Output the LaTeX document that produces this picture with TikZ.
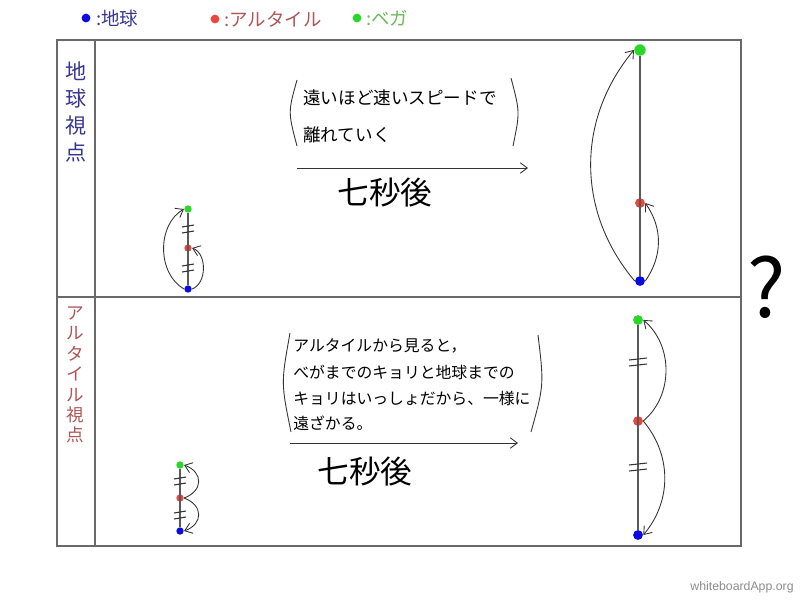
\documentclass[tikz,border=0pt]{standalone}
\usepackage{fontspec}
\setmainfont{Noto Sans CJK JP}
\newfontfamily\wmfont{Liberation Sans}
\usetikzlibrary{arrows.meta}

\definecolor{earthblue}{RGB}{10,10,225}
\definecolor{altairred}{RGB}{235,70,60}
\definecolor{vegagreen}{RGB}{40,215,40}
\definecolor{earthink}{RGB}{55,55,145}
\definecolor{altairink}{RGB}{175,85,85}
\definecolor{vegaink}{RGB}{110,185,90}
\definecolor{frameline}{RGB}{105,105,105}

\tikzset{
  body/.style={circle,fill=#1,inner sep=0pt,minimum size=4.2pt},
  bigbody/.style={circle,fill=#1,inner sep=0pt,minimum size=5.6pt},
  key/.style={anchor=west,inner sep=0pt,text=#1,font=\fontsize{10.5}{10.5}\selectfont},
  ink/.style={draw=black!80,line width=0.5pt},
  equalmark/.style={draw=black!80,line width=0.6pt},
  stick/.style={draw=black!65,line width=0.7pt},
  note/.style={anchor=west,inner sep=0pt,font=\fontsize{10}{10}\selectfont},
  notesmall/.style={anchor=west,inner sep=0pt,font=\fontsize{9}{9}\selectfont},
  later/.style={inner sep=0pt,font=\fontsize{18}{18}\selectfont}
}

\begin{document}
\begin{tikzpicture}[x=0.02cm,y=-0.02cm,>={Straight Barb[length=4pt,width=6pt]}]

  \useasboundingbox (0,0) rectangle (800,600);

  \node (kEarth) at (86,18) [body=earthblue,minimum size=5pt] {};
  \node (lEarth) at (96,18) [key=earthink] {:地球};
  \node (kAltair) at (215,19) [body=altairred,minimum size=5pt] {};
  \node (lAltair) at (224,19) [key=altairink] {:アルタイル};
  \node (kVega) at (357,18) [body=vegagreen,minimum size=5pt] {};
  \node (lVega) at (366,18) [key=vegaink] {:ベガ};

  \draw [frameline,line width=0.9pt] (57,40) rectangle (741,546);
  \draw [frameline,line width=0.9pt] (95,40) -- (95,546);
  \draw [frameline,line width=0.9pt] (57,297) -- (741,297);

  \node (viewE) at (76,112) [align=center,text=earthink,font=\fontsize{12}{15.5}\selectfont] {地\\球\\視\\点};
  \node (viewA) at (75,375) [align=center,text=altairink,font=\fontsize{10}{11.6}\selectfont] {ア\\ル\\タ\\イ\\ル\\視\\点};

  % earth view, now
  \node (v1) at (188,209) [body=vegagreen] {};
  \node (a1) at (188,248) [body=altairred] {};
  \node (e1) at (188,289) [body=earthblue] {};
  \draw [stick] (v1) -- (e1);
  \draw [ink,->] (e1.west) to [bend left=60] (v1.west);
  \draw [ink,->] (e1.east) to [bend right=70] (a1.east);

  % earth view, later
  \node (v2) at (640,50) [bigbody=vegagreen,minimum size=6.5pt] {};
  \node (a2) at (640,203) [bigbody=altairred] {};
  \node (e2) at (640,281) [bigbody=earthblue] {};
  \draw [stick] (v2) -- (e2);
  \draw [ink,->] (e2.west) to [bend left=40] (v2.west);
  \draw [ink,->] (e2.east) to [bend right=35] (a2.east);

  % altair view, now
  \node (v3) at (180,465) [body=vegagreen] {};
  \node (a3) at (180,498) [body=altairred] {};
  \node (e3) at (180,531) [body=earthblue] {};
  \draw [stick] (v3) -- (e3);
  \draw [ink,->] (a3.east) to [bend right=70,looseness=1.6] (v3.east);
  \draw [ink,->] (a3.east) to [bend left=70,looseness=1.6] (e3.east);

  % altair view, later
  \node (v4) at (638,320) [bigbody=vegagreen] {};
  \node (a4) at (638,421) [bigbody=altairred] {};
  \node (e4) at (638,535) [bigbody=earthblue] {};
  \draw [stick] (v4) -- (e4);
  \draw [ink,->] (a4.east) to [bend right=50] (v4.east);
  \draw [ink,->] (a4.east) to [bend left=40] (e4.east);

  \foreach \x/\y/\w in {188/229/6, 188/268/6, 180/481/6, 180/515/6, 638/362/9, 638/467/9} {
    \draw [equalmark] (\x-\w,\y-2) -- (\x+\w,\y-4);
    \draw [equalmark] (\x-\w,\y+4) -- (\x+\w,\y+2);
  }

  \node (msg1a) at (303,98) [note] {遠いほど速いスピードで};
  \node (msg1b) at (303,135) [note] {離れていく};
  \draw [ink] (297,80) .. controls (288,112) .. (297,146);
  \draw [ink] (511,78) .. controls (520,112) .. (513,146);
  \coordinate (go1) at (297,168);
  \coordinate (to1) at (528,168);
  \draw [ink,->] (go1) -- (to1);
  \node (after1) at (385,193) [later] {七秒後};

  \node (msg2a) at (293,346) [notesmall] {アルタイルから見ると，};
  \node (msg2b) at (293,372) [notesmall] {べがまでのキョリと地球までの};
  \node (msg2c) at (293,398) [notesmall] {キョリはいっしょだから、一様に};
  \node (msg2d) at (293,423) [notesmall] {遠ざかる。};
  \draw [ink] (290,333) .. controls (281,383) .. (291,432);
  \draw [ink] (538,335) .. controls (544,385) .. (531,432);
  \coordinate (go2) at (290,443);
  \coordinate (to2) at (518,443);
  \draw [ink,->] (go2) -- (to2);
  \node (after2) at (365,472) [later] {七秒後};

  \node (ask) at (767,287) [font=\fontsize{46}{46}\selectfont] {?};

  \node (stamp) at (742,587) [text=black!45,font=\wmfont\fontsize{7}{7}\selectfont] {whiteboardApp.org};

\end{tikzpicture}
\end{document}
